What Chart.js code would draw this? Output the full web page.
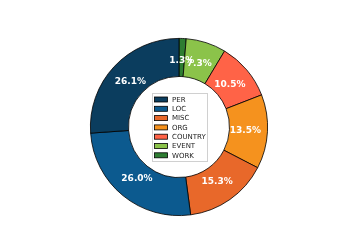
<!DOCTYPE html>
<html>
<head>
<meta charset="utf-8">
<script src="https://cdn.jsdelivr.net/npm/chart.js@4"></script>
<style>
  html, body { margin: 0; padding: 0; background: #fff; }
  #wrap { width: 348px; height: 252px; }
</style>
</head>
<body>
<div id="wrap"><canvas id="pie" width="348" height="252"></canvas></div>
<script>
// -----Data (matplotlib order, counter-clockwise from the top)
var categories = ['PER', 'LOC', 'MISC', 'ORG', 'COUNTRY', 'EVENT', 'WORK']
var shares = [26.1, 26.0, 15.3, 13.5, 10.5, 7.3, 1.3]
var colors = ['#0b3d5e', '#0c5a8f', '#e8682a', '#f5921e', '#ff6347', '#8bc34a', '#2e7d32']

// Chart.js goes clockwise, so feed it reversed
var labelsCW = categories.slice().reverse()
var sharesCW = shares.slice().reverse()
var colorsCW = colors.slice().reverse()

// -----Percent labels on the ring
var pctLabels = {
  id: 'pctLabels',
  afterDatasetsDraw: function(chart) {
    var ctx = chart.ctx
    var meta = chart.getDatasetMeta(0)
    ctx.save()
    ctx.font = 'bold 9px "DejaVu Sans"'
    ctx.fillStyle = '#fff'
    ctx.textAlign = 'center'
    ctx.textBaseline = 'middle'
    meta.data.forEach(function(arc, i) {
      var mid = (arc.startAngle + arc.endAngle) / 2
      var r = arc.outerRadius * 0.75
      var x = arc.x + Math.cos(mid) * r
      var y = arc.y + Math.sin(mid) * r
      ctx.fillText(sharesCW[i].toFixed(1) + '%', x, y)
    })
    ctx.restore()
  }
}

// -----Legend in the hole
var centerLegend = {
  id: 'centerLegend',
  afterDraw: function(chart) {
    var ctx = chart.ctx
    var bx = 152.5, by = 93.5, bw = 55, bh = 68
    ctx.save()
    ctx.fillStyle = '#fff'
    ctx.strokeStyle = '#d0d0d0'
    ctx.lineWidth = 1
    ctx.fillRect(bx, by, bw, bh)
    ctx.strokeRect(bx, by, bw, bh)
    ctx.font = '7px "DejaVu Sans"'
    ctx.textBaseline = 'middle'
    ctx.textAlign = 'left'
    for (var i = 0; i < categories.length; i++) {
      var y = 99.5 + i * 9.3
      ctx.fillStyle = colors[i]
      ctx.fillRect(154.5, y - 2.5, 13, 5)
      ctx.strokeStyle = '#000'
      ctx.lineWidth = 0.8
      ctx.strokeRect(154.5, y - 2.5, 13, 5)
      ctx.fillStyle = '#222'
      ctx.fillText(categories[i], 172, y + 0.5)
    }
    ctx.restore()
  }
}

var chart = new Chart(document.getElementById('pie'), {
  type: 'doughnut',
  data: {
    labels: labelsCW,
    datasets: [{
      data: sharesCW,
      backgroundColor: colorsCW,
      borderColor: '#000',
      borderWidth: 0.8,
      borderAlign: 'center'
    }]
  },
  options: {
    responsive: false,
    animation: false,
    cutout: '57%',
    layout: { padding: { left: 90, right: 80, top: 38, bottom: 36 } },
    plugins: {
      legend: { display: false },
      tooltip: { enabled: false }
    }
  },
  plugins: [pctLabels, centerLegend]
})
</script>
</body>
</html>
